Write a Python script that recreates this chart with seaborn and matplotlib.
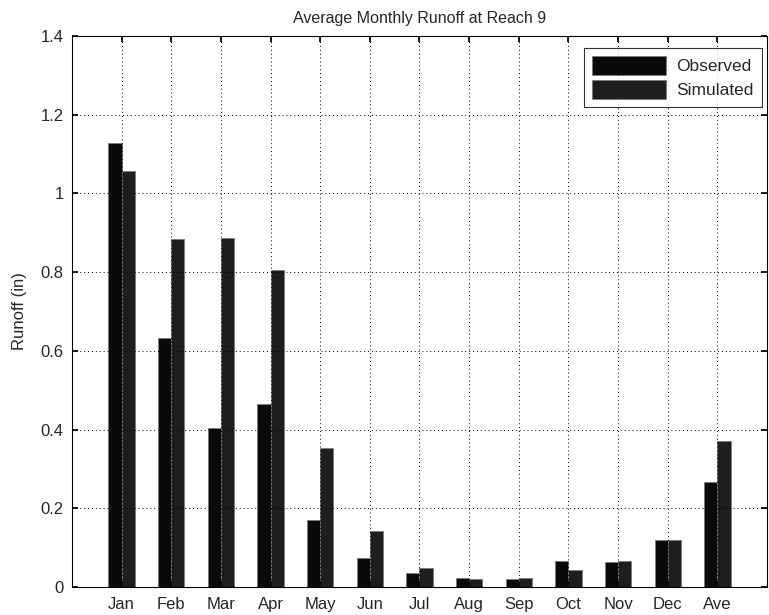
import matplotlib
matplotlib.use("Agg")
import matplotlib.pyplot as plt
import seaborn as sns
import pandas as pd

months = ["Jan", "Feb", "Mar", "Apr", "May", "Jun", "Jul", "Aug", "Sep", "Oct", "Nov", "Dec", "Ave"]
observed = [1.128, 0.633, 0.403, 0.465, 0.169, 0.073, 0.035, 0.024, 0.020, 0.065, 0.063, 0.119, 0.266]
simulated = [1.057, 0.884, 0.887, 0.806, 0.352, 0.143, 0.049, 0.020, 0.024, 0.044, 0.065, 0.119, 0.370]
series = ["Observed", "Simulated"]

df = pd.DataFrame({
    "Month": months * 2,
    "Runoff": observed + simulated,
    "Series": [series[0]] * len(months) + [series[1]] * len(months),
})

sns.set_theme(style="white")
plt.rcParams["font.family"] = ["Liberation Sans", "DejaVu Sans"]

fig = plt.figure(figsize=(7.69, 6.15), dpi=100)
ax = fig.add_axes([0.0936, 0.0455, 0.9038, 0.896])

sns.barplot(data=df, x="Month", y="Runoff", hue="Series", order=months,
            hue_order=series, palette=["#0a0a0a", "#1e1e1e"], width=0.53,
            edgecolor="#7a7a7a", linewidth=0.6, ax=ax, errorbar=None, saturation=1)

ax.set_xlim(-1, 13)
ax.set_ylim(0, 1.4)
ax.set_yticks([0, 0.2, 0.4, 0.6, 0.8, 1.0, 1.2, 1.4])
ax.set_yticklabels(["0", "0.2", "0.4", "0.6", "0.8", "1", "1.2", "1.4"])
ax.tick_params(axis="both", labelsize=12, direction="in", length=4, color="black",
               top=True, right=True, bottom=True, left=True)
ax.tick_params(axis="x", pad=7)
ax.tick_params(axis="y", pad=6)
ax.grid(True, linestyle=(0, (1, 3)), color="black", linewidth=0.7)
ax.set_axisbelow(False)
for s in ax.spines.values():
    s.set_color("black")
    s.set_linewidth(0.8)
ax.set_xlabel("")
ax.set_ylabel("Runoff (in)", fontsize=12, labelpad=10)
ax.set_title("Average Monthly Runoff at Reach 9", fontsize=11.5, pad=9)

leg = ax.legend(loc="upper right", bbox_to_anchor=(0.9925, 0.978), fontsize=12.5,
                handlelength=4.3, handleheight=1.3, frameon=True, fancybox=False,
                borderpad=0.45, labelspacing=0.3, handletextpad=0.6, borderaxespad=0)
leg.get_frame().set_edgecolor("black")
leg.get_frame().set_linewidth(0.8)

fig.savefig("out.png", dpi=100)
